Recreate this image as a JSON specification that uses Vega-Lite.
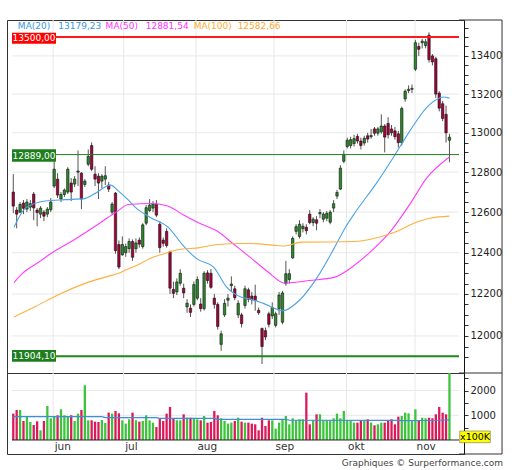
{
"$schema": "https://vega.github.io/schema/vega-lite/v6.json",
"background": "white",
"padding": {"left": 6, "top": 19, "right": 0, "bottom": 0},
"spacing": 0,
"bounds": "flush",
"title": {"text": "Graphiques © Surperformance.com", "orient": "bottom", "anchor": "end", "font": "DejaVu Sans", "fontSize": 9, "fontWeight": "normal", "color": "#444", "offset": 4},
"datasets": {
"pgrid": [{"p":12000},{"p":12200},{"p":12400},{"p":12600},{"p":12800},{"p":13000},{"p":13200},{"p":13400}],
"vgridl": [{"lv":1000},{"lv":2000}],
"months": [{"m":"jun","d":11.7},{"m":"jul","d":32.4},{"m":"aug","d":53.6},{"m":"sep","d":76.5},{"m":"okt","d":97.8},{"m":"nov","d":117.9}],
"candles": [
{"i":0,"o":12700,"h":12790,"l":12595,"c":12630,"v":1068},
{"i":1,"o":12610,"h":12625,"l":12520,"c":12590,"v":1216},
{"i":2,"o":12600,"h":12650,"l":12595,"c":12638,"v":1216},
{"i":3,"o":12645,"h":12660,"l":12590,"c":12619,"v":770},
{"i":4,"o":12615,"h":12665,"l":12600,"c":12650,"v":930},
{"i":5,"o":12625,"h":12660,"l":12605,"c":12642,"v":730},
{"i":6,"o":12690,"h":12700,"l":12560,"c":12621,"v":608},
{"i":7,"o":12610,"h":12620,"l":12530,"c":12598,"v":757},
{"i":8,"o":12590,"h":12630,"l":12570,"c":12620,"v":392},
{"i":9,"o":12600,"h":12610,"l":12555,"c":12580,"v":770},
{"i":10,"o":12590,"h":12625,"l":12575,"c":12615,"v":1378},
{"i":11,"o":12612,"h":12670,"l":12600,"c":12650,"v":878},
{"i":12,"o":12730,"h":12855,"l":12720,"c":12815,"v":932},
{"i":13,"o":12765,"h":12795,"l":12670,"c":12685,"v":1000},
{"i":14,"o":12665,"h":12700,"l":12650,"c":12688,"v":1243},
{"i":15,"o":12688,"h":12718,"l":12675,"c":12710,"v":1000},
{"i":16,"o":12700,"h":12825,"l":12690,"c":12815,"v":932},
{"i":17,"o":12745,"h":12770,"l":12655,"c":12700,"v":1000},
{"i":18,"o":12740,"h":12780,"l":12725,"c":12765,"v":770},
{"i":19,"o":12800,"h":12910,"l":12730,"c":12806,"v":1068},
{"i":20,"o":12795,"h":12800,"l":12615,"c":12665,"v":1216},
{"i":21,"o":12738,"h":12765,"l":12725,"c":12755,"v":2216},
{"i":22,"o":12840,"h":12915,"l":12830,"c":12880,"v":797},
{"i":23,"o":12935,"h":12951,"l":12805,"c":12815,"v":797},
{"i":24,"o":12790,"h":12830,"l":12730,"c":12765,"v":743},
{"i":25,"o":12780,"h":12795,"l":12665,"c":12745,"v":730},
{"i":26,"o":12755,"h":12790,"l":12720,"c":12780,"v":811},
{"i":27,"o":12765,"h":12830,"l":12735,"c":12782,"v":689},
{"i":28,"o":12735,"h":12750,"l":12700,"c":12715,"v":1108},
{"i":29,"o":12600,"h":12650,"l":12585,"c":12640,"v":1068},
{"i":30,"o":12695,"h":12700,"l":12395,"c":12410,"v":1176},
{"i":31,"o":12440,"h":12460,"l":12320,"c":12330,"v":1081},
{"i":32,"o":12390,"h":12480,"l":12385,"c":12440,"v":797},
{"i":33,"o":12400,"h":12445,"l":12380,"c":12430,"v":662},
{"i":34,"o":12420,"h":12470,"l":12400,"c":12455,"v":838},
{"i":35,"o":12455,"h":12465,"l":12360,"c":12378,"v":1108},
{"i":36,"o":12420,"h":12470,"l":12400,"c":12448,"v":797},
{"i":37,"o":12462,"h":12475,"l":12425,"c":12442,"v":743},
{"i":38,"o":12430,"h":12545,"l":12420,"c":12537,"v":770},
{"i":39,"o":12545,"h":12635,"l":12535,"c":12622,"v":1000},
{"i":40,"o":12608,"h":12665,"l":12600,"c":12635,"v":797},
{"i":41,"o":12620,"h":12655,"l":12600,"c":12640,"v":703},
{"i":42,"o":12640,"h":12660,"l":12575,"c":12585,"v":527},
{"i":43,"o":12540,"h":12555,"l":12400,"c":12425,"v":878},
{"i":44,"o":12462,"h":12475,"l":12430,"c":12446,"v":770},
{"i":45,"o":12505,"h":12520,"l":12425,"c":12435,"v":1068},
{"i":46,"o":12405,"h":12410,"l":12200,"c":12228,"v":1338},
{"i":47,"o":12222,"h":12260,"l":12180,"c":12203,"v":878},
{"i":48,"o":12210,"h":12275,"l":12195,"c":12258,"v":797},
{"i":49,"o":12252,"h":12320,"l":12240,"c":12300,"v":797},
{"i":50,"o":12228,"h":12250,"l":12180,"c":12205,"v":1040},
{"i":51,"o":12138,"h":12175,"l":12110,"c":12156,"v":905},
{"i":52,"o":12132,"h":12150,"l":12090,"c":12112,"v":905},
{"i":53,"o":12150,"h":12260,"l":12140,"c":12245,"v":878},
{"i":54,"o":12180,"h":12285,"l":12170,"c":12270,"v":838},
{"i":55,"o":12152,"h":12180,"l":12115,"c":12130,"v":797},
{"i":56,"o":12130,"h":12310,"l":12120,"c":12300,"v":973},
{"i":57,"o":12302,"h":12315,"l":12250,"c":12265,"v":703},
{"i":58,"o":12300,"h":12320,"l":12225,"c":12232,"v":730},
{"i":59,"o":12180,"h":12200,"l":12130,"c":12150,"v":1176},
{"i":60,"o":12150,"h":12160,"l":12030,"c":12045,"v":1000},
{"i":61,"o":11960,"h":12025,"l":11930,"c":12010,"v":878},
{"i":62,"o":12100,"h":12175,"l":12090,"c":12155,"v":770},
{"i":63,"o":12170,"h":12200,"l":12140,"c":12180,"v":662},
{"i":64,"o":12240,"h":12285,"l":12210,"c":12248,"v":703},
{"i":65,"o":12225,"h":12240,"l":12170,"c":12182,"v":770},
{"i":66,"o":12100,"h":12170,"l":12085,"c":12155,"v":905},
{"i":67,"o":12100,"h":12110,"l":12040,"c":12058,"v":743},
{"i":68,"o":12145,"h":12240,"l":12130,"c":12225,"v":703},
{"i":69,"o":12220,"h":12230,"l":12160,"c":12175,"v":703},
{"i":70,"o":12190,"h":12210,"l":12150,"c":12172,"v":662},
{"i":71,"o":12190,"h":12245,"l":12120,"c":12168,"v":635},
{"i":72,"o":12122,"h":12135,"l":12100,"c":12110,"v":392},
{"i":73,"o":12035,"h":12040,"l":11868,"c":11950,"v":905},
{"i":74,"o":12025,"h":12040,"l":11980,"c":11995,"v":568},
{"i":75,"o":12105,"h":12115,"l":12040,"c":12055,"v":797},
{"i":76,"o":12095,"h":12160,"l":12080,"c":12135,"v":797},
{"i":77,"o":12050,"h":12115,"l":12040,"c":12105,"v":460},
{"i":78,"o":12130,"h":12210,"l":12100,"c":12195,"v":703},
{"i":79,"o":12065,"h":12215,"l":12055,"c":12205,"v":838},
{"i":80,"o":12250,"h":12360,"l":12240,"c":12298,"v":973},
{"i":81,"o":12270,"h":12320,"l":12250,"c":12298,"v":635},
{"i":82,"o":12375,"h":12480,"l":12370,"c":12470,"v":878},
{"i":83,"o":12505,"h":12540,"l":12490,"c":12528,"v":797},
{"i":84,"o":12480,"h":12560,"l":12470,"c":12540,"v":838},
{"i":85,"o":12518,"h":12545,"l":12500,"c":12530,"v":838},
{"i":86,"o":12525,"h":12540,"l":12490,"c":12508,"v":1919},
{"i":87,"o":12590,"h":12610,"l":12540,"c":12548,"v":635},
{"i":88,"o":12548,"h":12575,"l":12530,"c":12565,"v":797},
{"i":89,"o":12562,"h":12580,"l":12510,"c":12545,"v":1040},
{"i":90,"o":12592,"h":12615,"l":12570,"c":12598,"v":1040},
{"i":91,"o":12565,"h":12600,"l":12550,"c":12590,"v":797},
{"i":92,"o":12570,"h":12605,"l":12555,"c":12594,"v":797},
{"i":93,"o":12550,"h":12610,"l":12540,"c":12600,"v":797},
{"i":94,"o":12620,"h":12660,"l":12600,"c":12642,"v":878},
{"i":95,"o":12680,"h":12710,"l":12665,"c":12698,"v":1068},
{"i":96,"o":12715,"h":12835,"l":12710,"c":12820,"v":878},
{"i":97,"o":12855,"h":12910,"l":12845,"c":12890,"v":1176},
{"i":98,"o":12930,"h":12975,"l":12920,"c":12962,"v":797},
{"i":99,"o":12935,"h":12980,"l":12920,"c":12965,"v":770},
{"i":100,"o":12945,"h":12990,"l":12930,"c":12970,"v":703},
{"i":101,"o":12982,"h":12995,"l":12945,"c":12958,"v":703},
{"i":102,"o":12958,"h":12975,"l":12915,"c":12935,"v":797},
{"i":103,"o":12948,"h":12985,"l":12935,"c":12972,"v":797},
{"i":104,"o":12985,"h":13000,"l":12950,"c":12968,"v":838},
{"i":105,"o":12980,"h":13020,"l":12970,"c":12986,"v":703},
{"i":106,"o":13020,"h":13030,"l":12985,"c":12998,"v":595},
{"i":107,"o":12998,"h":13030,"l":12985,"c":13020,"v":635},
{"i":108,"o":13005,"h":13095,"l":12995,"c":13035,"v":702},
{"i":109,"o":13035,"h":13045,"l":12900,"c":12978,"v":702},
{"i":110,"o":13048,"h":13080,"l":12970,"c":12990,"v":797},
{"i":111,"o":13020,"h":13040,"l":12985,"c":13000,"v":838},
{"i":112,"o":13010,"h":13030,"l":12965,"c":12980,"v":635},
{"i":113,"o":12995,"h":13010,"l":12925,"c":12950,"v":945},
{"i":114,"o":12950,"h":13135,"l":12935,"c":13125,"v":972},
{"i":115,"o":13175,"h":13225,"l":13160,"c":13215,"v":1107},
{"i":116,"o":13218,"h":13245,"l":13205,"c":13225,"v":1080},
{"i":117,"o":13225,"h":13250,"l":13205,"c":13230,"v":789},
{"i":118,"o":13330,"h":13485,"l":13320,"c":13470,"v":1242},
{"i":119,"o":13450,"h":13470,"l":13400,"c":13435,"v":789},
{"i":120,"o":13470,"h":13490,"l":13440,"c":13478,"v":904},
{"i":121,"o":13455,"h":13490,"l":13440,"c":13475,"v":880},
{"i":122,"o":13510,"h":13525,"l":13365,"c":13380,"v":900},
{"i":123,"o":13400,"h":13410,"l":13350,"c":13368,"v":880},
{"i":124,"o":13385,"h":13395,"l":13180,"c":13200,"v":1040},
{"i":125,"o":13205,"h":13215,"l":13110,"c":13127,"v":1336},
{"i":126,"o":13150,"h":13165,"l":13060,"c":13074,"v":1107},
{"i":127,"o":13095,"h":13140,"l":12950,"c":13000,"v":1040},
{"i":128,"o":12962,"h":12995,"l":12850,"c":12978,"v":2900}
],
"ma": [
{"i":0.2,"k":"MA20","val":12525},{"i":3.6,"k":"MA20","val":12620},{"i":9.4,"k":"MA20","val":12655},{"i":15.1,"k":"MA20","val":12662},{"i":20.9,"k":"MA20","val":12667},{"i":23.7,"k":"MA20","val":12690},{"i":28.6,"k":"MA20","val":12735},{"i":30.9,"k":"MA20","val":12705},{"i":33.5,"k":"MA20","val":12665},{"i":36.1,"k":"MA20","val":12620},{"i":40.1,"k":"MA20","val":12575},{"i":45.8,"k":"MA20","val":12520},{"i":49.6,"k":"MA20","val":12440},{"i":53.9,"k":"MA20","val":12370},{"i":58.8,"k":"MA20","val":12330},{"i":62.5,"k":"MA20","val":12235},{"i":66.8,"k":"MA20","val":12185},{"i":69.7,"k":"MA20","val":12175},{"i":73.4,"k":"MA20","val":12155},{"i":79.1,"k":"MA20","val":12120},{"i":84.0,"k":"MA20","val":12170},{"i":89.2,"k":"MA20","val":12280},{"i":94.1,"k":"MA20","val":12420},{"i":97.5,"k":"MA20","val":12525},{"i":99.8,"k":"MA20","val":12585},{"i":107.0,"k":"MA20","val":12755},{"i":111.9,"k":"MA20","val":12885},{"i":116.4,"k":"MA20","val":13010},{"i":121.3,"k":"MA20","val":13130},{"i":125.1,"k":"MA20","val":13180},{"i":126.2,"k":"MA20","val":13185},{"i":128,"k":"MA20","val":13179},
{"i":0.2,"k":"MA50","val":12255},{"i":2.4,"k":"MA50","val":12295},{"i":8.0,"k":"MA50","val":12360},{"i":10.5,"k":"MA50","val":12390},{"i":18.0,"k":"MA50","val":12465},{"i":24.9,"k":"MA50","val":12540},{"i":30.6,"k":"MA50","val":12605},{"i":33.8,"k":"MA50","val":12638},{"i":41.0,"k":"MA50","val":12643},{"i":45.3,"k":"MA50","val":12630},{"i":50.1,"k":"MA50","val":12585},{"i":55.3,"k":"MA50","val":12540},{"i":59.9,"k":"MA50","val":12505},{"i":64.8,"k":"MA50","val":12440},{"i":69.7,"k":"MA50","val":12375},{"i":74.5,"k":"MA50","val":12310},{"i":79.7,"k":"MA50","val":12252},{"i":82.0,"k":"MA50","val":12255},{"i":86.9,"k":"MA50","val":12265},{"i":94.1,"k":"MA50","val":12280},{"i":99.8,"k":"MA50","val":12335},{"i":105.5,"k":"MA50","val":12415},{"i":110.7,"k":"MA50","val":12505},{"i":116.4,"k":"MA50","val":12640},{"i":121.3,"k":"MA50","val":12770},{"i":128,"k":"MA50","val":12877},
{"i":0.2,"k":"MA100","val":12090},{"i":6.5,"k":"MA100","val":12140},{"i":13.7,"k":"MA100","val":12200},{"i":20.9,"k":"MA100","val":12250},{"i":27.8,"k":"MA100","val":12285},{"i":30.9,"k":"MA100","val":12300},{"i":33.5,"k":"MA100","val":12320},{"i":35.8,"k":"MA100","val":12335},{"i":41.0,"k":"MA100","val":12378},{"i":43.3,"k":"MA100","val":12390},{"i":47.6,"k":"MA100","val":12412},{"i":54.7,"k":"MA100","val":12425},{"i":60.2,"k":"MA100","val":12440},{"i":66.8,"k":"MA100","val":12445},{"i":69.7,"k":"MA100","val":12445},{"i":77.4,"k":"MA100","val":12435},{"i":79.7,"k":"MA100","val":12433},{"i":84.6,"k":"MA100","val":12452},{"i":86.9,"k":"MA100","val":12452},{"i":99.8,"k":"MA100","val":12455},{"i":107.0,"k":"MA100","val":12475},{"i":112.7,"k":"MA100","val":12505},{"i":117.6,"k":"MA100","val":12545},{"i":122.2,"k":"MA100","val":12570},{"i":128,"k":"MA100","val":12580}
],
"vma": [{"i":0,"v":946},{"i":26,"v":946},{"i":27,"v":905},{"i":42,"v":905},{"i":43,"v":878},{"i":59,"v":878},{"i":60,"v":838},{"i":80,"v":838},{"i":81,"v":800},{"i":113,"v":797},{"i":114,"v":785},{"i":125,"v":800},{"i":128,"v":815}]
},
"vconcat": [
{
"width": 457, "height": 353,
"resolve": {"axis": {"y": "independent", "x": "independent"}},
"layer": [
{"data": {"name": "pgrid"}, "mark": {"type": "rule", "color": "#e8e8e8", "strokeWidth": 1},
 "encoding": {
  "y": {"field": "p", "type": "quantitative", "scale": {"type": "log", "domain": [11826, 13591], "nice": false},
   "axis": {"orient": "right", "title": null, "grid": false, "labelOverlap": false, "labelBound": false, "labelFlush": false,
    "values": [11900,11950,12000,12050,12100,12150,12200,12250,12300,12350,12400,12450,12500,12550,12600,12650,12700,12750,12800,12850,12900,12950,13000,13050,13100,13150,13200,13250,13300,13350,13400,13450,13500,13550],
    "labelFontSize": {"condition": {"test": "datum.value % 200 == 0", "value": 10}, "value": 0},
    "labelExpr": "datum.value % 200 == 0 ? format(datum.value, 'd') : ''"}},
  "x": {"datum": -0.373, "type": "quantitative", "scale": {"domain": [-0.373, 130.8], "nice": false, "zero": false}, "axis": null},
  "x2": {"datum": 130.8}}},
{"data": {"name": "months"}, "mark": {"type": "rule", "color": "#e8e8e8", "strokeWidth": 1},
 "encoding": {"x": {"field": "d", "type": "quantitative", "axis": null}}},
{"data": {"name": "candles"}, "mark": {"type": "rule", "color": "#555555", "strokeWidth": 1},
 "encoding": {"x": {"field": "i", "type": "quantitative", "axis": null}, "y": {"field": "l", "type": "quantitative", "axis": null}, "y2": {"field": "h"}}},
{"data": {"name": "candles"}, "mark": {"type": "bar", "orient": "vertical", "size": 2.4, "stroke": "#111111", "strokeWidth": 0.6},
 "encoding": {"x": {"field": "i", "type": "quantitative", "axis": null}, "y": {"field": "o", "type": "quantitative", "axis": null}, "y2": {"field": "c"},
  "fill": {"condition": {"test": "datum.c >= datum.o", "value": "#2a8d2a"}, "value": "#a8003a"}}},
{"data": {"name": "ma"}, "mark": {"type": "line", "strokeWidth": 1.1, "interpolate": "monotone"},
 "encoding": {"x": {"field": "i", "type": "quantitative", "axis": null}, "y": {"field": "val", "type": "quantitative", "axis": null},
  "color": {"field": "k", "type": "nominal", "scale": {"domain": ["MA20","MA50","MA100"], "range": ["#4aa3e8","#ff3dff","#ffb040"]}, "legend": null}}},
{"data": {"values": [{}]}, "mark": {"type": "rule", "color": "#ff1a1a", "strokeWidth": 2},
 "encoding": {"y": {"datum": 13500, "type": "quantitative", "axis": null}, "x": {"datum": -0.373, "type": "quantitative", "axis": null}, "x2": {"datum": 130.8}}},
{"data": {"values": [{}]}, "mark": {"type": "rule", "color": "#1f7f1f", "strokeWidth": 1},
 "encoding": {"y": {"datum": 12889, "type": "quantitative", "axis": null}, "x": {"datum": -0.373, "type": "quantitative", "axis": null}, "x2": {"datum": 130.8}}},
{"data": {"values": [{}]}, "mark": {"type": "rule", "color": "#1a8a1a", "strokeWidth": 2},
 "encoding": {"y": {"datum": 11904.1, "type": "quantitative", "axis": null}, "x": {"datum": -0.373, "type": "quantitative", "axis": null}, "x2": {"datum": 130.8}}},
{"data": {"values": [{}]}, "mark": {"type": "rule", "color": "#333333", "strokeWidth": 1},
 "encoding": {"y": {"datum": 13591, "type": "quantitative", "axis": null}, "x": {"datum": 130.8, "type": "quantitative", "axis": null}, "x2": {"datum": 143.43}}},
{"data": {"values": [{}]}, "mark": {"type": "rule", "color": "#333333", "strokeWidth": 1},
 "encoding": {"y": {"datum": 11826, "type": "quantitative", "axis": null}, "x": {"datum": 130.8, "type": "quantitative", "axis": null}, "x2": {"datum": 143.43}}},
{"data": {"values": [{}]}, "mark": {"type": "rule", "color": "#333333", "strokeWidth": 1},
 "encoding": {"x": {"datum": 143.43, "type": "quantitative", "axis": null}, "y": {"datum": 11826, "type": "quantitative", "axis": null}, "y2": {"datum": 13591}}},
{"data": {"values": [{}]}, "mark": {"type": "rect", "color": "#ff0000"},
 "encoding": {"x": {"datum": -0.373, "type": "quantitative", "axis": null}, "x2": {"datum": 12.54}, "y": {"datum": 13523, "type": "quantitative", "axis": null}, "y2": {"datum": 13465}}},
{"data": {"values": [{}]}, "mark": {"type": "rect", "color": "#1e7e1e"},
 "encoding": {"x": {"datum": -0.373, "type": "quantitative", "axis": null}, "x2": {"datum": 12.54}, "y": {"datum": 12916, "type": "quantitative", "axis": null}, "y2": {"datum": 12853}}},
{"data": {"values": [{}]}, "mark": {"type": "rect", "color": "#1e7e1e"},
 "encoding": {"x": {"datum": -0.373, "type": "quantitative", "axis": null}, "x2": {"datum": 12.54}, "y": {"datum": 11934, "type": "quantitative", "axis": null}, "y2": {"datum": 11878}}},
{"data": {"values": [{}]}, "mark": {"type": "text", "color": "white", "fontSize": 9, "font": "DejaVu Sans", "align": "center", "baseline": "middle"},
 "encoding": {"x": {"datum": 6.08, "type": "quantitative", "axis": null}, "y": {"datum": 13494, "type": "quantitative", "axis": null}, "text": {"value": "13500,00"}}},
{"data": {"values": [{}]}, "mark": {"type": "text", "color": "white", "fontSize": 9, "font": "DejaVu Sans", "align": "center", "baseline": "middle"},
 "encoding": {"x": {"datum": 6.08, "type": "quantitative", "axis": null}, "y": {"datum": 12884, "type": "quantitative", "axis": null}, "text": {"value": "12889,00"}}},
{"data": {"values": [{}]}, "mark": {"type": "text", "color": "white", "fontSize": 9, "font": "DejaVu Sans", "align": "center", "baseline": "middle"},
 "encoding": {"x": {"datum": 6.08, "type": "quantitative", "axis": null}, "y": {"datum": 11906, "type": "quantitative", "axis": null}, "text": {"value": "11904,10"}}},
{"data": {"values": [{}]}, "mark": {"type": "text", "color": "#3a96e0", "fontSize": 9, "font": "DejaVu Sans", "align": "left", "baseline": "middle"},
 "encoding": {"x": {"datum": 1.35, "type": "quantitative", "axis": null}, "y": {"datum": 13559, "type": "quantitative", "axis": null}, "text": {"value": "MA(20)"}}},
{"data": {"values": [{}]}, "mark": {"type": "text", "color": "#3a96e0", "fontSize": 9, "font": "DejaVu Sans", "align": "left", "baseline": "middle"},
 "encoding": {"x": {"datum": 13.2, "type": "quantitative", "axis": null}, "y": {"datum": 13559, "type": "quantitative", "axis": null}, "text": {"value": "13179,23"}}},
{"data": {"values": [{}]}, "mark": {"type": "text", "color": "#ff33ff", "fontSize": 9, "font": "DejaVu Sans", "align": "left", "baseline": "middle"},
 "encoding": {"x": {"datum": 27.1, "type": "quantitative", "axis": null}, "y": {"datum": 13559, "type": "quantitative", "axis": null}, "text": {"value": "MA(50)"}}},
{"data": {"values": [{}]}, "mark": {"type": "text", "color": "#ff33ff", "fontSize": 9, "font": "DejaVu Sans", "align": "left", "baseline": "middle"},
 "encoding": {"x": {"datum": 38.86, "type": "quantitative", "axis": null}, "y": {"datum": 13559, "type": "quantitative", "axis": null}, "text": {"value": "12881,54"}}},
{"data": {"values": [{}]}, "mark": {"type": "text", "color": "#ffaa33", "fontSize": 9, "font": "DejaVu Sans", "align": "left", "baseline": "middle"},
 "encoding": {"x": {"datum": 52.93, "type": "quantitative", "axis": null}, "y": {"datum": 13559, "type": "quantitative", "axis": null}, "text": {"value": "MA(100)"}}},
{"data": {"values": [{}]}, "mark": {"type": "text", "color": "#ffaa33", "fontSize": 9, "font": "DejaVu Sans", "align": "left", "baseline": "middle"},
 "encoding": {"x": {"datum": 65.84, "type": "quantitative", "axis": null}, "y": {"datum": 13559, "type": "quantitative", "axis": null}, "text": {"value": "12582,66"}}}
]
},
{
"width": 457, "height": 81,
"resolve": {"axis": {"y": "independent", "x": "independent"}},
"layer": [
{"data": {"name": "vgridl"}, "mark": {"type": "rule", "color": "#e8e8e8", "strokeWidth": 1},
 "encoding": {
  "y": {"field": "lv", "type": "quantitative", "scale": {"domain": [-567, 2713], "nice": false, "zero": false},
   "axis": {"orient": "right", "title": null, "grid": false, "labelOverlap": false, "labelBound": false, "labelFlush": false,
    "values": [500,1000,1500,2000,2500],
    "labelFontSize": {"condition": {"test": "datum.value % 1000 == 0", "value": 10}, "value": 0},
    "labelExpr": "datum.value % 1000 == 0 ? format(datum.value, 'd') : ''"}},
  "x": {"datum": -0.373, "type": "quantitative", "scale": {"domain": [-0.373, 130.8], "nice": false, "zero": false}, "axis": null},
  "x2": {"datum": 130.8}}},
{"data": {"name": "months"}, "mark": {"type": "rule", "color": "#e8e8e8", "strokeWidth": 1},
 "encoding": {"x": {"field": "d", "type": "quantitative", "axis": null}, "y": {"datum": 0, "type": "quantitative", "axis": null}, "y2": {"datum": 2713}}},
{"data": {"name": "candles"}, "mark": {"type": "bar", "orient": "vertical", "size": 2.3, "clip": true},
 "encoding": {"x": {"field": "i", "type": "quantitative", "axis": null}, "y": {"field": "v", "type": "quantitative", "axis": null}, "y2": {"datum": 0},
  "fill": {"condition": {"test": "datum.c >= datum.o", "value": "#3cc43c"}, "value": "#dc1a5a"}}},
{"data": {"name": "vma"}, "mark": {"type": "line", "color": "#3a8fd8", "strokeWidth": 1.2},
 "encoding": {"x": {"field": "i", "type": "quantitative", "axis": null}, "y": {"field": "v", "type": "quantitative", "axis": null}}},
{"data": {"values": [{}]}, "mark": {"type": "rule", "color": "#222222", "strokeWidth": 1},
 "encoding": {"y": {"datum": 0, "type": "quantitative", "axis": null}, "x": {"datum": -0.373, "type": "quantitative", "axis": null}, "x2": {"datum": 130.8}}},
{"data": {"values": [{}]}, "mark": {"type": "rule", "color": "#333333", "strokeWidth": 1},
 "encoding": {"y": {"datum": -567, "type": "quantitative", "axis": null}, "x": {"datum": 130.8, "type": "quantitative", "axis": null}, "x2": {"datum": 143.43}}},
{"data": {"values": [{}]}, "mark": {"type": "rule", "color": "#333333", "strokeWidth": 1},
 "encoding": {"x": {"datum": 143.43, "type": "quantitative", "axis": null}, "y": {"datum": -567, "type": "quantitative", "axis": null}, "y2": {"datum": 2713}}},
{"data": {"name": "months"}, "mark": {"type": "text", "color": "#333333", "fontSize": 10.5, "font": "DejaVu Sans", "align": "left", "baseline": "middle", "dx": 1.5},
 "encoding": {"x": {"field": "d", "type": "quantitative", "axis": null}, "y": {"datum": -283, "type": "quantitative", "axis": null}, "text": {"field": "m"}}},
{"data": {"values": [{}]}, "mark": {"type": "rect", "color": "#ffff00", "stroke": "#555555", "strokeWidth": 0.5},
 "encoding": {"x": {"datum": 131.0, "type": "quantitative", "axis": null}, "x2": {"datum": 140.0}, "y": {"datum": 364, "type": "quantitative", "axis": null}, "y2": {"datum": -110}}},
{"data": {"values": [{}]}, "mark": {"type": "text", "color": "#000000", "fontSize": 9.5, "font": "DejaVu Sans", "align": "center", "baseline": "middle"},
 "encoding": {"x": {"datum": 135.5, "type": "quantitative", "axis": null}, "y": {"datum": 127, "type": "quantitative", "axis": null}, "text": {"value": "x100K"}}}
]
}
],
"config": {
 "view": {"stroke": "#333333", "strokeWidth": 1},
 "axis": {"labelFont": "DejaVu Sans", "labelFontSize": 10, "labelColor": "#222222", "tickColor": "#333333", "domainColor": "#111111", "tickSize": 4, "labelPadding": 2, "domainWidth": 1},
 "text": {"font": "DejaVu Sans"}
}
}
